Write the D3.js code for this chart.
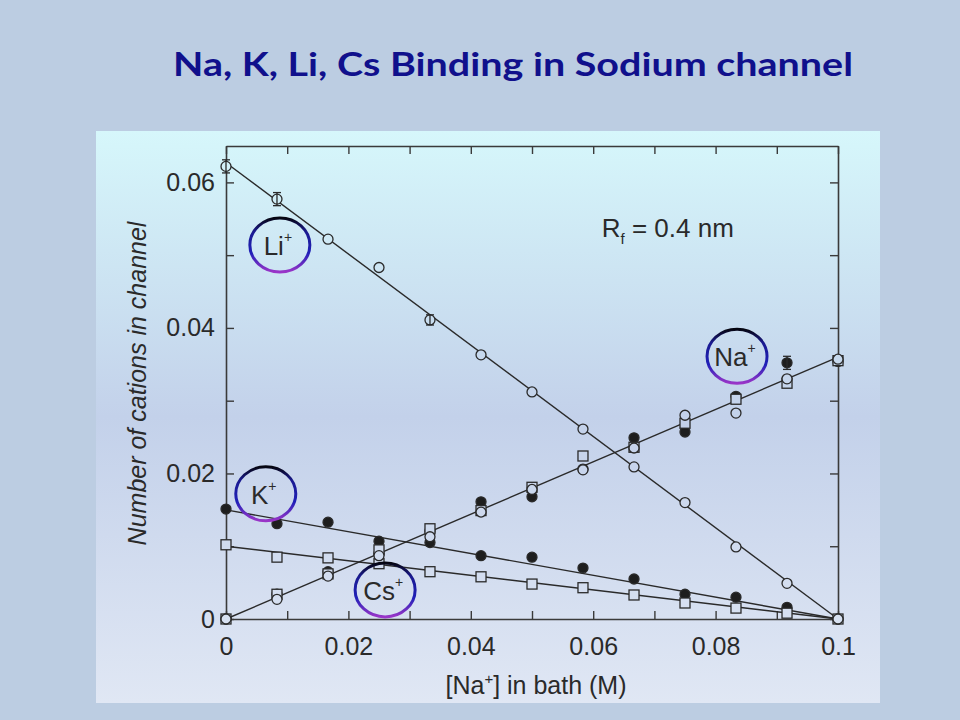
<!DOCTYPE html>
<html>
<head>
<meta charset="utf-8">
<script src="https://cdn.jsdelivr.net/npm/d3@7"></script>
<style>
  html, body { margin: 0; padding: 0; background: #bccde2; }
  svg { display: block; }
</style>
</head>
<body>
<svg id="chart" width="960" height="720"></svg>
<script>
// ---------------- data ----------------
const title = "Na, K, Li, Cs Binding in Sodium channel";
const xConc = [0, 0.00833, 0.01667, 0.025, 0.03333, 0.04167, 0.05, 0.05833, 0.06667, 0.075, 0.08333, 0.09167, 0.1];
const liValues   = [0.0622, 0.0577, 0.0522, 0.0483, 0.0411, 0.0363, 0.0312, 0.0261, 0.0209, 0.0160, 0.0099, 0.0049, 0.0000];
const naFilled   = [0.0000, 0.0034, 0.0065, 0.0090, 0.0121, 0.0161, 0.0168, 0.0206, 0.0249, 0.0257, 0.0306, 0.0352, 0.0354];
const naSquares  = [0.0000, 0.0034, 0.0062, 0.0095, 0.0124, 0.0149, 0.0181, 0.0224, 0.0236, 0.0269, 0.0302, 0.0324, 0.0355];
const naCircles  = [0.0000, 0.0027, 0.0059, 0.0087, 0.0113, 0.0147, 0.0178, 0.0205, 0.0235, 0.0280, 0.0283, 0.0330, 0.0357];
const kValues    = [0.0151, 0.0131, 0.0133, 0.0107, 0.0105, 0.0087, 0.0085, 0.0070, 0.0055, 0.0034, 0.0030, 0.0016, 0.0000];
const csValues   = [0.0102, 0.0085, 0.0084, 0.0076, 0.0065, 0.0058, 0.0048, 0.0043, 0.0033, 0.0022, 0.0015, 0.0008, 0.0000];
// error bars: [x, y, half-width]
const liErrors = [[0, 0.0622, 0.0009], [0.00833, 0.0577, 0.0009], [0.03333, 0.0411, 0.0007]];
const naErrors = [[0.09167, 0.0352, 0.0009]];
// fitted straight lines: [value at x=0, value at x=0.1]
const fitX = [0, 0.1];
const liFit = [0.0627, 0.0];
const naFit = [0.0, 0.0360];
const kFit  = [0.0150, 0.0];
const csFit = [0.0100, 0.0];
// axes
const xDomain = [0, 0.1];
const yDomain = [0, 0.065];
const xTicks = [0, 0.01, 0.02, 0.03, 0.04, 0.05, 0.06, 0.07, 0.08, 0.09, 0.1];
const xTickLabels = ["0", "", "0.02", "", "0.04", "", "0.06", "", "0.08", "", "0.1"];
const yTicks = [0, 0.01, 0.02, 0.03, 0.04, 0.05, 0.06];
const yTickLabels = ["0", "", "0.02", "", "0.04", "", "0.06"];
const xTitle = ["[Na", "+", "] in bath (M)"];
const yTitle = "Number of cations in channel";
// annotation labels: [name, x, y]
const ionLabels = [["Li", 0.0088, 0.0514], ["Na", 0.0835, 0.0361], ["K", 0.0065, 0.0172], ["Cs", 0.0260, 0.0040]];
const rfLabel = [0.0614, 0.0525];

// ---------------- drawing ----------------
const svg = d3.select("#chart");
const defs = svg.append("defs");

const panel = {x: 96, y: 131, w: 784, h: 572};
const panelStops = [[0, "#d6f7fb"], [0.5, "#c3d1ea"], [1, "#e0e7f4"]];
const bg = defs.append("linearGradient").attr("id", "panelGrad")
  .attr("x1", 0).attr("y1", 0).attr("x2", 0).attr("y2", 1);
panelStops.forEach(([o, c]) => bg.append("stop").attr("offset", o).attr("stop-color", c));
const panelColor = d3.scaleLinear()
  .domain(panelStops.map(s => panel.y + s[0] * panel.h))
  .range(panelStops.map(s => s[1])).interpolate(d3.interpolateRgb);

const rg = defs.append("linearGradient").attr("id", "ringGrad")
  .attr("x1", 0).attr("y1", 0).attr("x2", 0).attr("y2", 1);
rg.append("stop").attr("offset", "0%").attr("stop-color", "#050510");
rg.append("stop").attr("offset", "25%").attr("stop-color", "#1a1a90");
rg.append("stop").attr("offset", "65%").attr("stop-color", "#2020b8");
rg.append("stop").attr("offset", "100%").attr("stop-color", "#9a35c8");

svg.append("rect").attr("width", 960).attr("height", 720).attr("fill", "#bccde2");
svg.append("rect").attr("x", panel.x).attr("y", panel.y).attr("width", panel.w).attr("height", panel.h)
  .attr("fill", "url(#panelGrad)");

svg.append("text").attr("x", 513).attr("y", 76).attr("text-anchor", "middle")
  .attr("font-family", "Lato, 'Open Sans', sans-serif").attr("font-weight", 700)
  .attr("font-size", 33).attr("fill", "#10108c")
  .attr("textLength", 680).attr("lengthAdjust", "spacingAndGlyphs")
  .text(title);

const x = d3.scaleLinear().domain(xDomain).range([226, 838]);
const y = d3.scaleLinear().domain(yDomain).range([619, 146]);

const axisColor = "#3a3a3a";
const font = "'Liberation Sans', Arial, sans-serif";

function styleAxis(g) {
  g.select(".domain").attr("stroke", axisColor).attr("stroke-width", 1.6);
  g.selectAll(".tick line").attr("stroke", axisColor).attr("stroke-width", 1.4);
  g.selectAll(".tick text").attr("fill", "#2a2a2a").attr("font-family", font).attr("font-size", 25);
}

const xAxis = svg.append("g").attr("transform", `translate(0,${y(0)})`)
  .call(d3.axisBottom(x).tickValues(xTicks).tickSizeInner(-8).tickSizeOuter(0).tickPadding(12)
    .tickFormat((d, i) => xTickLabels[i]));
styleAxis(xAxis);
xAxis.selectAll(".tick text").attr("dy", "0.95em");

const xAxisTop = svg.append("g").attr("transform", `translate(0,${y(yDomain[1])})`)
  .call(d3.axisTop(x).tickValues(xTicks).tickSizeInner(-8).tickSizeOuter(0).tickFormat(""));
styleAxis(xAxisTop);

const yAxis = svg.append("g").attr("transform", `translate(${x(0)},0)`)
  .call(d3.axisLeft(y).tickValues(yTicks).tickSizeInner(-8).tickSizeOuter(0).tickPadding(11)
    .tickFormat((d, i) => yTickLabels[i]));
styleAxis(yAxis);

const yAxisRight = svg.append("g").attr("transform", `translate(${x(xDomain[1])},0)`)
  .call(d3.axisRight(y).tickValues(yTicks).tickSizeInner(-8).tickSizeOuter(0).tickFormat(""));
styleAxis(yAxisRight);

// axis titles
const xt = svg.append("text").attr("x", 536).attr("y", 694).attr("text-anchor", "middle")
  .attr("font-family", font).attr("font-size", 25).attr("fill", "#2a2a2a");
xt.append("tspan").text(xTitle[0]);
xt.append("tspan").attr("dy", -10).attr("font-size", 15).text(xTitle[1]);
xt.append("tspan").attr("dy", 10).text(xTitle[2]);

svg.append("text").attr("transform", `translate(146,${y(0.0325) + 1}) rotate(-90)`)
  .attr("text-anchor", "middle").attr("font-family", font).attr("font-style", "italic")
  .attr("font-size", 25).attr("fill", "#2a2a2a").text(yTitle);

// fitted lines
const line = d3.line().x(d => x(d[0])).y(d => y(d[1]));
[liFit, naFit, kFit, csFit].forEach(f => {
  svg.append("path").datum(fitX.map((xv, i) => [xv, f[i]]))
    .attr("d", line).attr("fill", "none").attr("stroke", "#2a2a2a").attr("stroke-width", 1.4);
});

// markers (open markers are opaque, filled with the panel colour behind them)
function circles(vals, filled) {
  svg.append("g").selectAll("circle").data(vals).join("circle")
    .attr("cx", (d, i) => x(xConc[i])).attr("cy", d => y(d)).attr("r", 5)
    .attr("fill", d => filled ? "#1e1e1e" : panelColor(y(d)))
    .attr("stroke", "#2a2a2a").attr("stroke-width", 1.3);
}
function squares(vals) {
  const s = 10;
  svg.append("g").selectAll("rect").data(vals).join("rect")
    .attr("x", (d, i) => x(xConc[i]) - s / 2).attr("y", d => y(d) - s / 2)
    .attr("width", s).attr("height", s)
    .attr("fill", d => panelColor(y(d)))
    .attr("stroke", "#2a2a2a").attr("stroke-width", 1.3);
}
circles(kValues, true);
circles(naFilled, true);
squares(csValues);
squares(naSquares);
circles(naCircles, false);
circles(liValues, false);

// error bars (drawn over the markers)
function errorBars(list) {
  list.forEach(([xv, yv, e]) => {
    const g = svg.append("g").attr("stroke", "#2a2a2a").attr("stroke-width", 1.3);
    g.append("line").attr("x1", x(xv)).attr("x2", x(xv)).attr("y1", y(yv - e)).attr("y2", y(yv + e));
    g.append("line").attr("x1", x(xv) - 4).attr("x2", x(xv) + 4).attr("y1", y(yv - e)).attr("y2", y(yv - e));
    g.append("line").attr("x1", x(xv) - 4).attr("x2", x(xv) + 4).attr("y1", y(yv + e)).attr("y2", y(yv + e));
  });
}
errorBars(liErrors);
errorBars(naErrors);

// ion label rings
ionLabels.forEach(([name, xv, yv]) => {
  const cx = x(xv), cy = y(yv);
  svg.append("ellipse").attr("cx", cx).attr("cy", cy).attr("rx", 30).attr("ry", 27)
    .attr("fill", "none").attr("stroke", "url(#ringGrad)").attr("stroke-width", 3);
  const t = svg.append("text").attr("x", cx - 2).attr("y", cy + 10).attr("text-anchor", "middle")
    .attr("font-family", font).attr("font-size", 26).attr("fill", "#2a2a2a");
  t.append("tspan").text(name);
  t.append("tspan").attr("dy", -13).attr("font-size", 14).text("+");
});

// R_f label
const rf = svg.append("text").attr("x", x(rfLabel[0])).attr("y", y(rfLabel[1]))
  .attr("font-family", font).attr("font-size", 26).attr("fill", "#2a2a2a");
rf.append("tspan").text("R");
rf.append("tspan").attr("dy", 7).attr("font-size", 15).text("f");
rf.append("tspan").attr("dy", -7).text(" = 0.4 nm");
</script>
</body>
</html>
